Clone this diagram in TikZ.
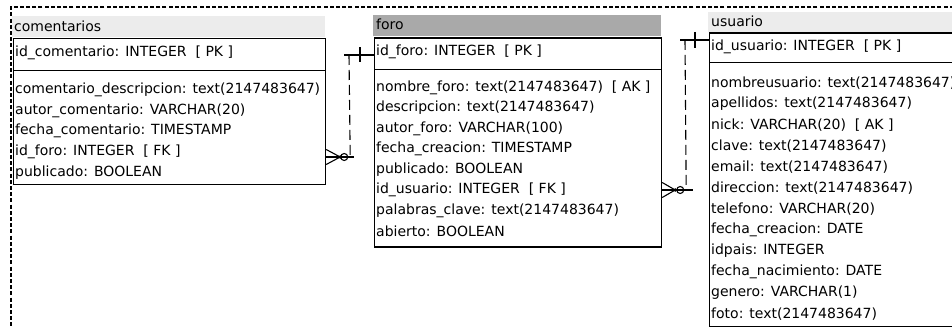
\documentclass[tikz,border=0pt]{standalone}
\usepackage{fontspec}
\setmainfont{DejaVu Sans}
\usetikzlibrary{calc}
\definecolor{hdrlight}{HTML}{ECECEC}
\definecolor{hdrsel}{HTML}{A9A9A9}
\begin{document}
\begin{tikzpicture}[x=1pt,y=-1pt,
  every node/.style={font=\fontsize{14}{16}\selectfont, inner sep=0pt},
  fld/.style={anchor=west},
  tbl/.style={draw, line width=1.2pt, anchor=north west, inner sep=0pt},
  hdr/.style={anchor=north west, inner sep=0pt},
  divline/.style={line width=1.2pt},
  rel/.style={line width=1.1pt},
  reldash/.style={line width=1.1pt, dash pattern=on 10pt off 5pt}]
\useasboundingbox (0,0) rectangle (952,328);
\clip (0,0) rectangle (952,328);
\fill[white] (0,0) rectangle (952,328);

% outer dashed frame
\node[draw, dash pattern=on 4pt off 2.2pt, line width=1.7pt, anchor=north west,
      minimum width=1000pt, minimum height=400pt] (frame) at (10,6) {};

% ---------- comentarios ----------
\node[hdr, fill=hdrlight, minimum width=313pt, minimum height=21pt] (chdr) at (12,16) {};
\node[fld] (ctitle) at (14,26.5) {comentarios};
\node[tbl, minimum width=312pt, minimum height=146pt] (cbox) at (13,38) {};
\draw[divline] ([yshift=-32.5pt]cbox.north west) -- ([yshift=-32.5pt]cbox.north east);
\node[fld] (c0) at (15,53) {id\_comentario: INTEGER\ \ [ PK ]};
\node[fld] (c1) at (15,90) {comentario\_descripcion: text(2147483647)};
\node[fld] (c2) at (15,110.6) {autor\_comentario: VARCHAR(20)};
\node[fld] (c3) at (15,131.2) {fecha\_comentario: TIMESTAMP};
\node[fld] (c4) at (15,151.8) {id\_foro: INTEGER\ \ [ FK ]};
\node[fld] (c5) at (15,172.4) {publicado: BOOLEAN};

% ---------- foro ----------
\node[hdr, fill=hdrsel, minimum width=288pt, minimum height=21pt] (fhdr) at (373,15) {};
\node[fld] (ftitle) at (376,24.5) {foro};
\node[tbl, minimum width=287pt, minimum height=209pt] (fbox) at (374,37.5) {};
\draw[divline] ([yshift=-32pt]fbox.north west) -- ([yshift=-32pt]fbox.north east);
\node[fld] (f0) at (376,51.7) {id\_foro: INTEGER\ \ [ PK ]};
\node[fld] (f1) at (376,87.5) {nombre\_foro: text(2147483647)\ \ [ AK ]};
\node[fld] (f2) at (376,108) {descripcion: text(2147483647)};
\node[fld] (f3) at (376,128.5) {autor\_foro: VARCHAR(100)};
\node[fld] (f4) at (376,149) {fecha\_creacion: TIMESTAMP};
\node[fld] (f5) at (376,169.5) {publicado: BOOLEAN};
\node[fld] (f6) at (376,190) {id\_usuario: INTEGER\ \ [ FK ]};
\node[fld] (f7) at (376,210.5) {palabras\_clave: text(2147483647)};
\node[fld] (f8) at (376,231) {abierto: BOOLEAN};

% ---------- usuario ----------
\node[hdr, fill=hdrlight, minimum width=260pt, minimum height=20pt] (uhdr) at (708,12) {};
\node[fld] (utitle) at (711,21.7) {usuario};
\node[tbl, minimum width=260pt, minimum height=293pt] (ubox) at (709,32.5) {};
\draw[divline] ([yshift=-30pt]ubox.north west) -- ([yshift=-30pt]ubox.north east);
\node[fld] (u0) at (711,46.7) {id\_usuario: INTEGER\ \ [ PK ]};
\node[fld] (u1) at (711,82.7) {nombreusuario: text(2147483647)};
\node[fld] (u2) at (711,103.7) {apellidos: text(2147483647)};
\node[fld] (u3) at (711,124.8) {nick: VARCHAR(20)\ \ [ AK ]};
\node[fld] (u4) at (711,145.8) {clave: text(2147483647)};
\node[fld] (u5) at (711,166.8) {email: text(2147483647)};
\node[fld] (u6) at (711,187.8) {direccion: text(2147483647)};
\node[fld] (u7) at (711,208.9) {telefono: VARCHAR(20)};
\node[fld] (u8) at (711,229.9) {fecha\_creacion: DATE};
\node[fld] (u9) at (711,250.9) {idpais: INTEGER};
\node[fld] (u10) at (711,271.9) {fecha\_nacimiento: DATE};
\node[fld] (u11) at (711,293) {genero: VARCHAR(1)};
\node[fld] (u12) at (711,314) {foto: text(2147483647)};

% ---------- relation foro -> comentarios ----------
\coordinate (c1a) at ([yshift=-17.5pt]fbox.north west);
\coordinate (c1b) at ([yshift=-119pt]cbox.north east);
\draw[rel] (c1a) -- ++(-30,0);
\draw[rel] ($(c1a)+(-14,-7.5)$) -- ++(0,15);
\draw[reldash] ($(c1a)+(-25,0)$) -- ($(c1b)+(24,0)$);
\draw[rel] (c1b) -- ++(28,0);
\draw[rel] ($(c1b)+(0,-7.5)$) -- ($(c1b)+(14,0)$) -- ($(c1b)+(0,7.5)$);
\draw[rel] ($(c1b)+(18,0)$) circle (3.5pt);
\fill ($(c1b)+(14,0)$) circle (1.8pt);

% ---------- relation usuario -> foro ----------
\coordinate (c2a) at ([yshift=-7.5pt]ubox.north west);
\coordinate (c2b) at ([yshift=-152.5pt]fbox.north east);
\draw[rel] (c2a) -- ++(-29,0);
\draw[rel] ($(c2a)+(-14,-8)$) -- ++(0,16);
\draw[reldash] ($(c2a)+(-24,0)$) -- ($(c2b)+(24,0)$);
\draw[rel] (c2b) -- ++(31,0);
\draw[rel] ($(c2b)+(0,-7.5)$) -- ($(c2b)+(13,0)$) -- ($(c2b)+(0,7.5)$);
\draw[rel] ($(c2b)+(18,0)$) circle (3.5pt);
\fill ($(c2b)+(13,0)$) circle (1.8pt);
\end{tikzpicture}
\end{document}
